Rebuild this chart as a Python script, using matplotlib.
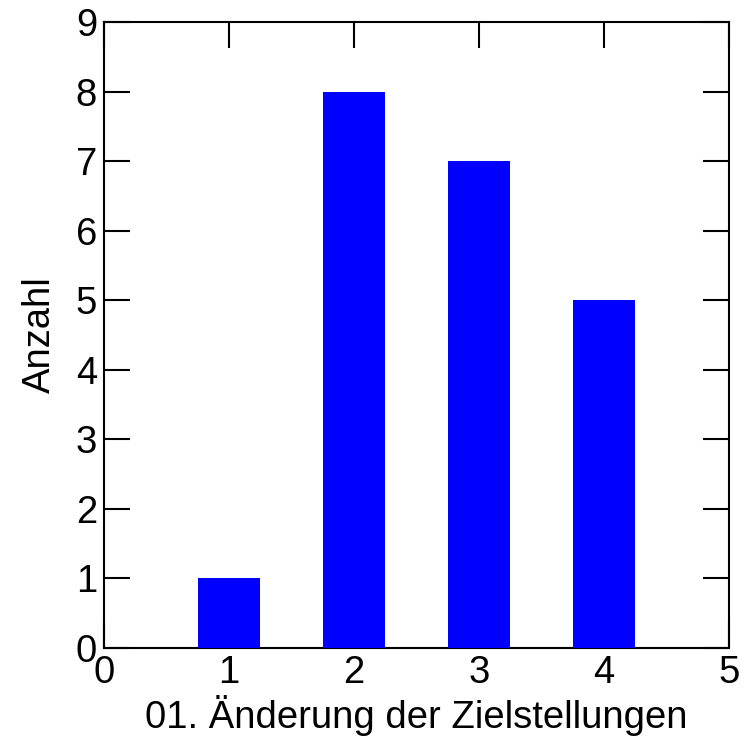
import matplotlib
matplotlib.use("Agg")
import matplotlib.pyplot as plt

categories = [1, 2, 3, 4]
counts = [1, 8, 7, 5]
xticks = [0, 1, 2, 3, 4, 5]
yticks = [0, 1, 2, 3, 4, 5, 6, 7, 8, 9]

plt.rcParams['font.family'] = ['Liberation Sans', 'DejaVu Sans']

fig = plt.figure(figsize=(7.45, 7.49), dpi=100)
ax = fig.add_axes([104/745, 1 - 648/749, (729-104)/745, (648-22)/749])
ax.bar(categories, counts, width=0.5, color='#0000ff', zorder=3)
ax.set_xlim(0, 5)
ax.set_ylim(0, 9)
ax.set_xticks(xticks)
ax.set_yticks(yticks)
ax.tick_params(direction='in', length=19, width=1.5, top=True, right=True,
               labelsize=27.5, pad=5)
for s in ax.spines.values():
    s.set_linewidth(1.5)
ax.set_xlabel('01. Änderung der Zielstellungen', fontsize=27.5, labelpad=3)
ax.set_ylabel('Anzahl', fontsize=27.5, labelpad=13)
fig.savefig('out.png', dpi=100)
